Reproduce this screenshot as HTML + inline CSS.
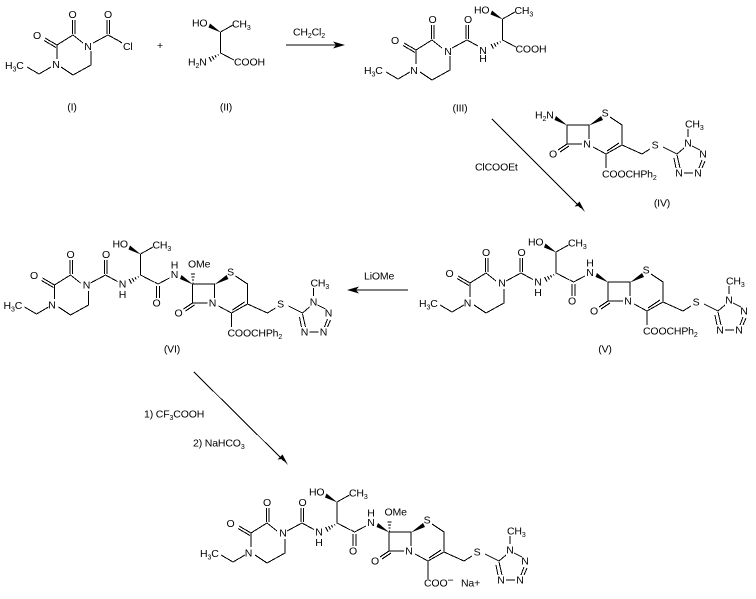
<!DOCTYPE html>
<html>
<head>
<meta charset="utf-8">
<style>
html,body{margin:0;padding:0;background:#fff}
svg{display:block}
text{font-family:"Liberation Sans",sans-serif;font-size:10.5px;letter-spacing:-.15px;fill:#000}
.m{text-anchor:middle}
.l{stroke:#000;stroke-width:1;fill:none;shape-rendering:crispEdges}
tspan.s{font-size:7px}
</style>
</head>
<body>
<svg xmlns="http://www.w3.org/2000/svg" width="756" height="599" viewBox="0 0 756 599">
<defs>
<g id="ring">
<path class="l" d="M83,43L73,35L57,45V59M61,67L73,75L91,65V51M72.5,34V20M75,34V20M57,45L45,38M56,47.5L44,40.5M51,67L39,74L27,67M93,43L108,35L119,41M107,34V20M109.5,34V20"/>
</g>
<g id="thr">
<path class="l" d="M220.5,32L233,25M220.5,32V53L234,60"/>
<polygon points="221,32.5 210,23.5 208.5,27.5" fill="#000"/>
<path class="l" d="M217.9,54.4L218.5,55.6M215,55.3L216.2,57.5M212,56L214,59.6M209.1,57L211.5,61.6"/>
</g>
<g id="ceph">
<polygon points="567.5,125.5 556,116 554.5,120" fill="#000"/>
<polygon points="589,125.5 601,116 603,120" fill="#000"/>
<path class="l" d="M567,125H589V139M567,125V144H582M567,144L558,150M569,146L560,152M610,117L622,125V145L606,154L593,147M619,143L607,151M606,154V168M622,145L642,154L650,149M663,147L677,154L684,148M677,155L680,168M674,158L676,168M684,173H693M702,160L699,168M705,161L702,168M700,150L692,146M688,137V129"/>
</g>
<g id="mol">
<use href="#ring" transform="translate(413,238)"/>
<use href="#thr" transform="translate(335.5,220)"/>
<use href="#ceph" transform="translate(41,157)"/>
<path class="l" d="M532,279L533,279.5M570,280L573.5,282L585,276M572,284V296M575,284V296"/>
</g>
</defs>

<!-- I -->
<use href="#ring"/>
<path class="l" d="M119,41L122,43"/>
<text class="m" x="88" y="50">N</text>
<text class="m" x="56" y="68">N</text>
<text class="m" x="72.5" y="18">O</text>
<text class="m" x="37" y="39">O</text>
<text class="m" x="108" y="18">O</text>
<text x="123" y="50">Cl</text>
<text x="5" y="69">H<tspan class="s" dy="2.5">3</tspan><tspan dy="-2.5">C</tspan></text>
<text class="m" x="160" y="49">+</text>
<text class="m" x="72" y="110.6">(I)</text>

<!-- II -->
<use href="#thr"/>
<text x="192" y="26.6">HO</text>
<text x="232" y="27.6">CH<tspan class="s" dy="2.5">3</tspan></text>
<text x="188" y="65.6">H<tspan class="s" dy="2.5">2</tspan><tspan dy="-2.5">N</tspan></text>
<text x="234" y="65.6">COOH</text>
<text class="m" x="226" y="110.6">(II)</text>

<!-- arrow 1 -->
<path class="l" d="M286,45H340"/>
<polygon points="345,45 333,41.5 336,45 333,48.5" fill="#000"/>
<text x="293" y="35.6">CH<tspan class="s" dy="2.5">2</tspan><tspan dy="-2.5">Cl</tspan><tspan class="s" dy="2.5">2</tspan></text>

<!-- III -->
<g transform="translate(359,5)">
<use href="#ring"/>
<text class="m" x="89" y="50">N</text>
<text class="m" x="55" y="69">N</text>
<text class="m" x="73.5" y="18">O</text>
<text class="m" x="36" y="39">O</text>
<text class="m" x="109" y="18">O</text>
<text x="5" y="69">H<tspan class="s" dy="2.5">3</tspan><tspan dy="-2.5">C</tspan></text>
</g>
<g transform="translate(282,-13)">
<use href="#thr"/>
<text x="192" y="26.6">HO</text>
<text x="232.5" y="27">CH<tspan class="s" dy="2.5">3</tspan></text>
<text x="233.5" y="65.6">COOH</text>
</g>
<text class="m" x="483" y="54">N</text>
<text class="m" x="483" y="62">H</text>
<text class="m" x="460" y="111.6">(III)</text>

<!-- arrow 2 -->
<path class="l" d="M492,119L581,208"/>
<polygon points="585,212 579.5,201.5 574.5,206.5 579,206" fill="#000"/>
<text x="475" y="170.6">ClCOOEt</text>

<!-- IV -->
<use href="#ceph"/>
<text x="535" y="118.6">H<tspan class="s" dy="2.5">2</tspan><tspan dy="-2.5">N</tspan></text>
<text class="m" x="605" y="116.6">S</text>
<text class="m" x="587" y="147.6">N</text>
<text class="m" x="553" y="157.6">O</text>
<text x="602" y="177.6">COOCHPh<tspan class="s" dy="2.5">2</tspan></text>
<text class="m" x="655" y="148.6">S</text>
<text class="m" x="688" y="146.6">N</text>
<text class="m" x="703" y="157.6">N</text>
<text class="m" x="698" y="176.6">N</text>
<text class="m" x="679" y="176.6">N</text>
<text x="685" y="127.6">CH<tspan class="s" dy="2.5">3</tspan></text>
<text class="m" x="662" y="206.6">(IV)</text>

<!-- V -->
<use href="#mol"/>
<text class="m" x="502" y="286.6">N</text>
<text class="m" x="467.5" y="306.6">N</text>
<text class="m" x="486" y="256">O</text>
<text class="m" x="449.5" y="277">O</text>
<text class="m" x="521.5" y="256">O</text>
<text x="419" y="307">H<tspan class="s" dy="2.5">3</tspan><tspan dy="-2.5">C</tspan></text>
<text class="m" x="538" y="285.6">N</text>
<text class="m" x="538" y="296">H</text>
<text x="528" y="245.6">HO</text>
<text x="568" y="246.6">CH<tspan class="s" dy="2.5">3</tspan></text>
<text class="m" x="572" y="304.6">O</text>
<text class="m" x="590" y="276">N</text>
<text class="m" x="590" y="266.5">H</text>
<text class="m" x="646" y="273.6">S</text>
<text class="m" x="628" y="304.6">N</text>
<text class="m" x="594" y="314.6">O</text>
<text x="643" y="334.6">COOCHPh<tspan class="s" dy="2.5">2</tspan></text>
<text class="m" x="696" y="305.6">S</text>
<text class="m" x="729" y="303.6">N</text>
<text class="m" x="744" y="314.6">N</text>
<text class="m" x="739" y="333.6">N</text>
<text class="m" x="720" y="333.6">N</text>
<text x="726" y="284.6">CH<tspan class="s" dy="2.5">3</tspan></text>
<text class="m" x="605" y="352.6">(V)</text>

<!-- arrow 3 -->
<path class="l" d="M408,290H352"/>
<polygon points="347,290 359,286.5 356,290 359,293.5" fill="#000"/>
<text x="364" y="279.6">LiOMe</text>

<!-- VI -->
<g transform="translate(-415.5,2)">
<use href="#mol"/>
<path class="l" d="M608,281H609M607.5,278H609.5M607,275H610M606.5,272H610.5"/>
<text class="m" x="502" y="286.6">N</text>
<text class="m" x="467.5" y="306.6">N</text>
<text class="m" x="486" y="256">O</text>
<text class="m" x="449.5" y="277">O</text>
<text class="m" x="521.5" y="256">O</text>
<text x="419" y="307">H<tspan class="s" dy="2.5">3</tspan><tspan dy="-2.5">C</tspan></text>
<text class="m" x="538" y="285.6">N</text>
<text class="m" x="538" y="296">H</text>
<text x="528" y="245.6">HO</text>
<text x="568" y="246.6">CH<tspan class="s" dy="2.5">3</tspan></text>
<text class="m" x="572" y="304.6">O</text>
<text class="m" x="590" y="276">N</text>
<text class="m" x="590" y="266.5">H</text>
<text x="603.5" y="265.6">OMe</text>
<text class="m" x="646" y="273.6">S</text>
<text class="m" x="628" y="304.6">N</text>
<text class="m" x="594" y="314.6">O</text>
<text x="643" y="334.6">COOCHPh<tspan class="s" dy="2.5">2</tspan></text>
<text class="m" x="696" y="305.6">S</text>
<text class="m" x="729" y="303.6">N</text>
<text class="m" x="744" y="314.6">N</text>
<text class="m" x="739" y="333.6">N</text>
<text class="m" x="720" y="333.6">N</text>
<text x="726" y="284.6">CH<tspan class="s" dy="2.5">3</tspan></text>
</g>
<text class="m" x="172" y="352.6">(VI)</text>

<!-- arrow 4 -->
<path class="l" d="M194,372L284,461"/>
<polygon points="288,465 282.5,454.5 277.5,459.5 282,459" fill="#000"/>
<text x="144" y="417.6">1) CF<tspan class="s" dy="2.5">3</tspan><tspan dy="-2.5">COOH</tspan></text>
<text x="193" y="446.6">2) NaHCO<tspan class="s" dy="2.5">3</tspan></text>

<!-- VII -->
<g transform="translate(-219,250)">
<use href="#mol"/>
<path class="l" d="M647,325V329M608,281H609M607.5,278H609.5M607,275H610M606.5,272H610.5"/>
<text class="m" x="502" y="286.6">N</text>
<text class="m" x="467.5" y="306.6">N</text>
<text class="m" x="486" y="256">O</text>
<text class="m" x="449.5" y="277">O</text>
<text class="m" x="521.5" y="256">O</text>
<text x="419" y="307">H<tspan class="s" dy="2.5">3</tspan><tspan dy="-2.5">C</tspan></text>
<text class="m" x="538" y="285.6">N</text>
<text class="m" x="538" y="296">H</text>
<text x="528" y="245.6">HO</text>
<text x="568" y="246.6">CH<tspan class="s" dy="2.5">3</tspan></text>
<text class="m" x="572" y="304.6">O</text>
<text class="m" x="590" y="276">N</text>
<text class="m" x="590" y="266.5">H</text>
<text x="603.5" y="265.6">OMe</text>
<text class="m" x="646" y="273.6">S</text>
<text class="m" x="628" y="304.6">N</text>
<text class="m" x="594" y="314.6">O</text>
<text x="643" y="336.6">COO<tspan dy="-3">−</tspan></text>
<text x="680" y="336.6">Na+</text>
<text class="m" x="696" y="305.6">S</text>
<text class="m" x="729" y="303.6">N</text>
<text class="m" x="744" y="314.6">N</text>
<text class="m" x="739" y="333.6">N</text>
<text class="m" x="720" y="333.6">N</text>
<text x="726" y="284.6">CH<tspan class="s" dy="2.5">3</tspan></text>
</g>
</svg>
</body>
</html>
